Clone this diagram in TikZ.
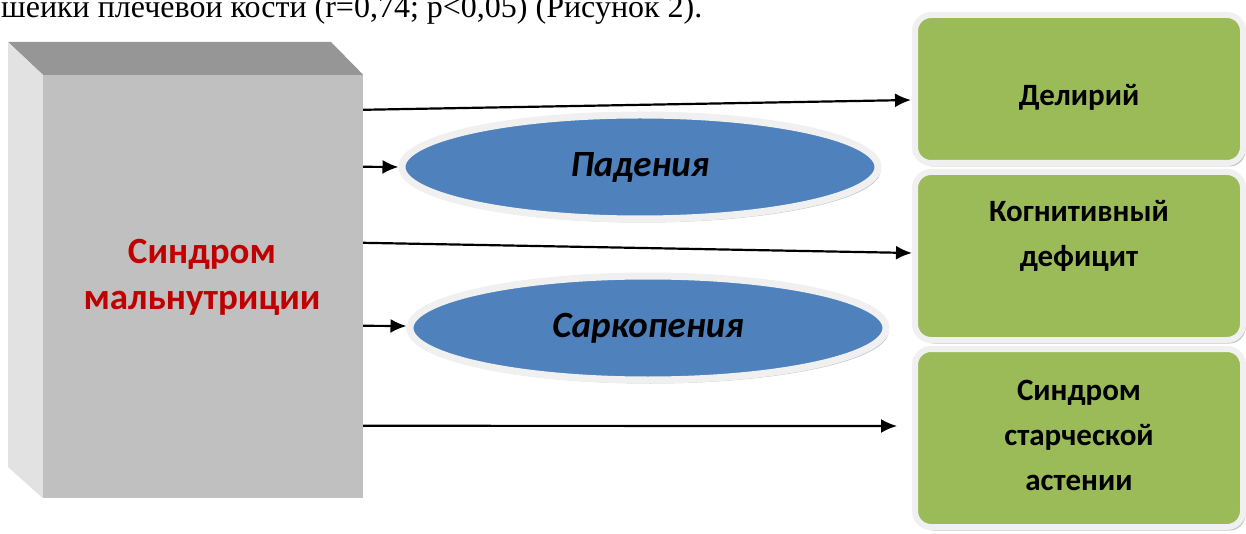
\documentclass[tikz,border=0pt]{standalone}
\usepackage{fontspec}
\setmainfont{Liberation Serif}
\newfontfamily\calib{Carlito}
\usetikzlibrary{shapes.geometric,shadows,arrows.meta,calc}
\definecolor{malred}{HTML}{C00000}
\definecolor{ovalblue}{HTML}{4F81BD}
\definecolor{boxgreen}{HTML}{9BBB59}
\definecolor{frontgray}{HTML}{C0C0C0}
\definecolor{topgray}{HTML}{969696}
\definecolor{leftgray}{HTML}{E2E2E2}
\definecolor{rimgray}{HTML}{F0F0F0}
\definecolor{shadowgray}{HTML}{7F8A9A}
\begin{document}
\begin{tikzpicture}[x=1pt,y=-1pt,
  arr/.style={line width=2.2pt,-{Latex[length=16pt,width=14pt]}},
  softshadow/.style={drop shadow={shadow xshift=2.5pt,shadow yshift=-3.5pt,fill=shadowgray,opacity=.5}},
  oval/.style={ellipse,fill=ovalblue,draw=rimgray,line width=7pt,minimum width=476pt,minimum height=104pt,inner sep=0pt,softshadow,
    font=\calib\bfseries\itshape\fontsize{37}{44}\selectfont},
  gbox/.style={rectangle,rounded corners=16pt,fill=boxgreen,draw=rimgray,line width=6pt,minimum width=328pt,inner sep=0pt,softshadow},
  glabel/.style={font=\calib\bfseries\fontsize{31}{45}\selectfont,align=center,inner sep=0pt},
  mallabel/.style={font=\calib\bfseries\fontsize{37}{46}\selectfont,align=center,text=malred,inner sep=0pt}
]
\useasboundingbox (0,0) rectangle (1246,534);
\clip (0,0) rectangle (1246,534);

% caption fragment at the top
\node[anchor=base west,inner sep=0pt,font=\fontsize{32}{38}\selectfont] (cap) at (1,18)
  {шейки плечевой кости (r=0,74; p<0,05) (Рисунок 2).};

% 3D box
\node[rectangle,fill=frontgray,minimum width=320pt,minimum height=423pt,inner sep=0pt] (mal) at (203,286.5) {};
\fill[topgray] (8,42) -- (331,42) -- (mal.north east) -- (mal.north west) -- cycle;
\fill[leftgray] (8,42) -- (mal.north west) -- (mal.south west) -- (8,467) -- cycle;
\node[mallabel] (maltxt) at (202,277) {Синдром\\мальнутриции};

% ovals
\node[oval] (pad) at (640,167) {Падения};
\node[oval] (sark) at (648,328) {Саркопения};

% green boxes
\node[gbox,minimum height=148pt] (b1) at (1079,89) {};
\node[gbox,minimum height=168pt] (b2) at (1079,256) {};
\node[gbox,minimum height=178pt] (b3) at (1079,438) {};
\node[glabel] (t1) at (1079,97) {Делирий};
\node[glabel] (t2) at (1079,235.5) {Когнитивный\\дефицит};
\node[glabel] (t3) at (1079,435) {Синдром\\старческой\\астении};

% connectors
\draw[arr] ($(mal.north east)+(0,35)$) -- ($(b1.west)+(-1,11)$);
\draw[arr] ($(mal.north east)+(0,92)$) -- (pad.west);
\draw[arr] ($(mal.north east)+(0,168)$) -- ($(b2.west)+(0,-3)$);
\draw[arr] ($(mal.north east)+(0,251)$) -- ($(sark.west)+(0,-2)$);
\draw[arr] ($(mal.north east)+(0,351)$) -- ($(b3.west)+(-15,-12)$);
\end{tikzpicture}
\end{document}
